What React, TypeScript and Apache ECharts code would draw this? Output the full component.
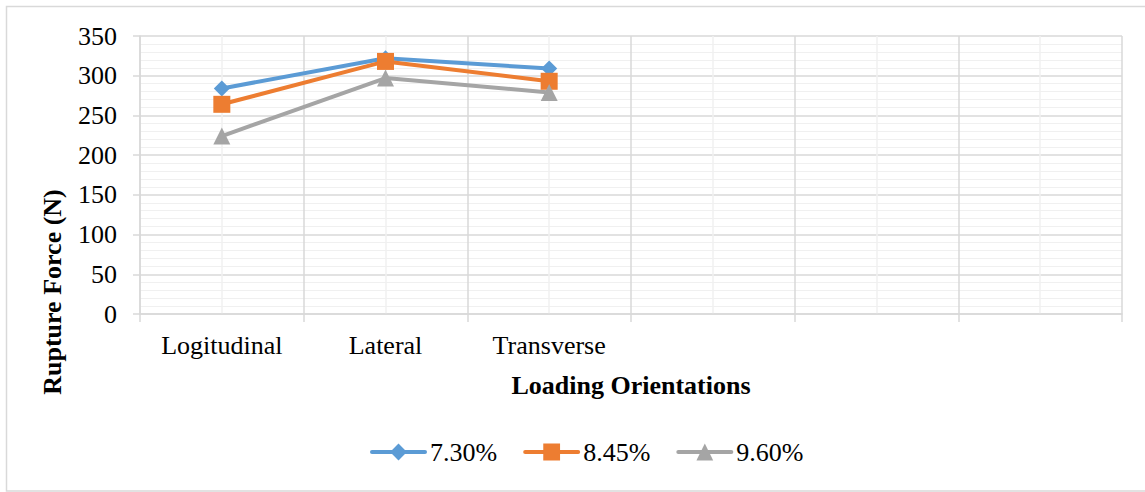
import React, { useEffect, useRef } from "react";
import * as echarts from "echarts";

const categories = ["Logitudinal", "Lateral", "Transverse", "", "", ""];
const seriesNames = ["7.30%", "8.45%", "9.60%"];
const values730 = [284, 322, 309];
const values845 = [264, 318, 293];
const values960 = [224, 297, 279];
const yTicks = { min: 0, max: 350, interval: 50 };

const FONT = "Liberation Serif";

export default function App() {
  const ref = useRef<HTMLDivElement>(null);
  useEffect(() => {
    if (!ref.current) return;
    const chart = echarts.init(ref.current, undefined, { renderer: "svg" });
    const major = "#d9d9d9";
    const minor = "#f0f0f0";
    const mkSeries = (name: string, data: number[], color: string, symbol: string, size: number) => ({
      name,
      type: "line",
      xAxisIndex: 0,
      yAxisIndex: 0,
      data,
      symbol,
      symbolSize: size,
      lineStyle: { color, width: 4 },
      itemStyle: { color },
      z: 5,
    });
    chart.setOption({
      animation: false,
      backgroundColor: "#ffffff",
      textStyle: { fontFamily: FONT },
      grid: { left: 140, right: 23, top: 36, bottom: 178, containLabel: false },
      graphic: [
        {
          type: "rect",
          shape: { x: 6.5, y: 6.5, width: 1150, height: 484.5 },
          style: { fill: "none", stroke: major, lineWidth: 1.5 },
          z: -10,
        },
        {
          type: "text",
          x: 52,
          y: 292,
          rotation: Math.PI / 2,
          style: {
            text: "Rupture Force (N)",
            font: `bold 26px ${FONT}`,
            fill: "#000",
            textAlign: "center",
            textVerticalAlign: "middle",
          },
        },
      ],
      legend: {
        left: 365,
        top: 434,
        itemWidth: 53,
        itemHeight: 21,
        itemGap: 26,
        data: seriesNames,
        lineStyle: { width: 4, cap: "round" },
        textStyle: { fontFamily: FONT, fontSize: 26, color: "#000", padding: [0, 0, 0, 0] },
      },
      xAxis: [
        {
          type: "category",
          data: categories,
          boundaryGap: true,
          position: "bottom",
          axisLine: { show: true, lineStyle: { color: major, width: 1.5 } },
          axisTick: { show: true, length: 8, interval: 0, lineStyle: { color: major, width: 1.5 } },
          axisLabel: { interval: 0, margin: 18, fontFamily: FONT, fontSize: 26, color: "#000" },
          splitLine: { show: false },
          name: "Loading Orientations",
          nameLocation: "middle",
          nameGap: 58,
          nameTextStyle: { fontFamily: FONT, fontSize: 26, fontWeight: "bold", color: "#000" },
        },
        {
          type: "value",
          min: 0,
          max: 6,
          interval: 1,
          position: "bottom",
          axisLine: { show: false },
          axisTick: { show: false },
          axisLabel: { show: false },
          splitLine: { show: true, lineStyle: { color: major, width: 1.5 } },
          minorTick: { show: false, splitNumber: 2 },
          minorSplitLine: { show: true, lineStyle: { color: minor, width: 1.5 } },
        },
      ],
      yAxis: {
        type: "value",
        min: yTicks.min,
        max: yTicks.max,
        interval: yTicks.interval,
        axisLine: { show: true, lineStyle: { color: major, width: 1.5 } },
        axisTick: { show: true, length: 7, lineStyle: { color: major, width: 1.5 } },
        axisLabel: { margin: 23, fontFamily: FONT, fontSize: 26, color: "#000" },
        splitLine: { show: true, lineStyle: { color: major, width: 1.5 } },
        minorTick: { show: false, splitNumber: 5 },
        minorSplitLine: { show: true, lineStyle: { color: minor, width: 1.2 } },
      },
      series: [
        mkSeries(seriesNames[0], values730, "#5b9bd5", "diamond", 16),
        mkSeries(seriesNames[1], values845, "#ed7d31", "rect", 17),
        mkSeries(seriesNames[2], values960, "#a5a5a5", "triangle", 17),
      ],
    });
    return () => chart.dispose();
  }, []);
  return (
    <div
      ref={ref}
      style={{ position: "absolute", left: 0, top: 0, width: 1145, height: 492, background: "#fff" }}
    />
  );
}
